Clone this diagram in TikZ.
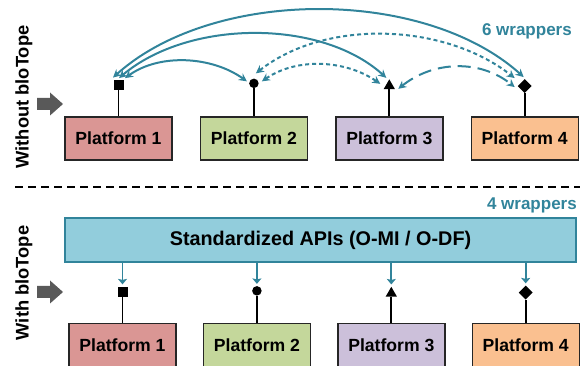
\documentclass[tikz,border=0pt]{standalone}
\usepackage{fontspec}
\setmainfont{Liberation Sans}
\usepackage{xcolor}
\usepackage{tikz}
\usetikzlibrary{arrows.meta,positioning,shapes.geometric,calc}
\definecolor{biteal}{HTML}{31849B}
\definecolor{apiblue}{HTML}{92CDDC}
\definecolor{plred}{HTML}{DA9694}
\definecolor{plgreen}{HTML}{C4D79B}
\definecolor{pllilac}{HTML}{CCC0DA}
\definecolor{plorange}{HTML}{FAC090}
\definecolor{arrowgray}{HTML}{595959}

\begin{document}
\begin{tikzpicture}[
        x=1pt, y=1pt,
        node distance=27pt,
        platform/.style={draw=black!85, line width=1.4pt, minimum width=107pt, minimum height=43pt, inner sep=0pt, font=\fontsize{17.6}{20}\selectfont\bfseries},
        apibox/.style={draw=biteal, fill=apiblue, line width=1.4pt, minimum width=511pt, minimum height=44pt, inner sep=0pt, font=\fontsize{19.8}{22}\selectfont\bfseries},
        sqmark/.style={fill=black, minimum size=10pt, inner sep=0pt},
        dotmark/.style={circle, fill=black, minimum size=9.5pt, inner sep=0pt},
        trimark/.style={regular polygon, regular polygon sides=3, fill=black, minimum size=13pt, inner sep=0pt},
        dmdmark/.style={diamond, fill=black, minimum size=14pt, inner sep=0pt},
        stem/.style={line width=1.8pt, draw=black},
        wrap/.style={{Stealth[length=8pt,width=8pt]}-{Stealth[length=8pt,width=8pt]}, line width=2pt, draw=biteal},
        shortdash/.style={dash pattern=on 4pt off 3pt},
        longdash/.style={dash pattern=on 13pt off 7pt},
        down/.style={-{Stealth[length=5.5pt,width=9pt,inset=1pt]}, line width=1.8pt, draw=biteal, shorten >=2pt},
        label/.style={font=\fontsize{18.3}{20}\selectfont\bfseries},
        wraptext/.style={font=\fontsize{17}{20}\selectfont\bfseries, text=biteal, anchor=east, inner sep=0pt}
    ]
    \useasboundingbox (0,0) rectangle (588,366);

    % without bloTope
    \node[platform, fill=plred] (p1) at (118.5,227.5) {Platform 1};
    \node[platform, fill=plgreen, right=of p1] (p2) {Platform 2};
    \node[platform, fill=pllilac, right=of p2] (p3) {Platform 3};
    \node[platform, fill=plorange, right=of p3] (p4) {Platform 4};
    \node[sqmark, above=26pt of p1] (m1) {};
    \node[dotmark, above=28pt of p2] (m2) {};
    \node[trimark, above=27pt of p3] (m3) {};
    \node[dmdmark, above=23pt of p4] (m4) {};
    \foreach \i in {1,...,4}
        \draw[stem] (m\i) -- (p\i);

    \draw[wrap] ($(m1)+(-5.5,7.5)$) .. controls +(100,90) and +(-100,90) .. ($(m4)+(-1,9)$);
    \draw[wrap] ($(m1)+(0.5,7)$) .. controls +(70,59) and +(-65,59) .. ($(m3)+(-3,8)$);
    \draw[wrap] ($(m1)+(6.5,7)$) .. controls +(35,25) and +(-35,25) .. ($(m2)+(-7,2)$);
    \draw[wrap, shortdash] ($(m2)+(2,10)$) .. controls +(70,55) and +(-70,55) .. ($(m4)+(-10,8)$);
    \draw[wrap, shortdash] ($(m2)+(8,2)$) .. controls +(35,24) and +(-35,24) .. ($(m3)+(-9,2)$);
    \draw[wrap, longdash] ($(m3)+(9,-3)$) .. controls +(35,28) and +(-35,28) .. ($(m4)+(-10,-1)$);

    \node[wraptext] (w6) at (572,335) {6 wrappers};
    \node[label, rotate=90] (without) at (24,269) {Without bloTope};

    \draw[line width=1.8pt, dash pattern=on 8pt off 5pt] (15,179) -- (580,179);

    % with bloTope
    \node[wraptext] (w4) at (577,161) {4 wrappers};
    \node[apibox] (api) at (320.5,126) {Standardized APIs (O-MI / O-DF)};
    \node[platform, fill=plred] (q1) at (122.5,21) {Platform 1};
    \node[platform, fill=plgreen, right=26pt of q1] (q2) {Platform 2};
    \node[platform, fill=pllilac, right=26pt of q2] (q3) {Platform 3};
    \node[platform, fill=plorange, right=26pt of q3] (q4) {Platform 4};
    \node[sqmark, above=26pt of q1] (n1) {};
    \node[dotmark, above=27pt of q2] (n2) {};
    \node[trimark, above=26pt of q3] (n3) {};
    \node[dmdmark, above=23pt of q4] (n4) {};
    \foreach \i in {1,...,4} {
        \draw[stem] (n\i) -- (q\i);
        \draw[down] (api.south -| n\i) -- (n\i.north);
    }
    \node[label, rotate=90] (with) at (24,83) {With bloTope};

    % side arrows
    \foreach \y in {262,74}
        \fill[arrowgray] (37,\y-6) -- (50,\y-6) -- (50,\y-11.5) -- (63,\y) -- (50,\y+11.5) -- (50,\y+6) -- (37,\y+6) -- cycle;
\end{tikzpicture}
\end{document}
